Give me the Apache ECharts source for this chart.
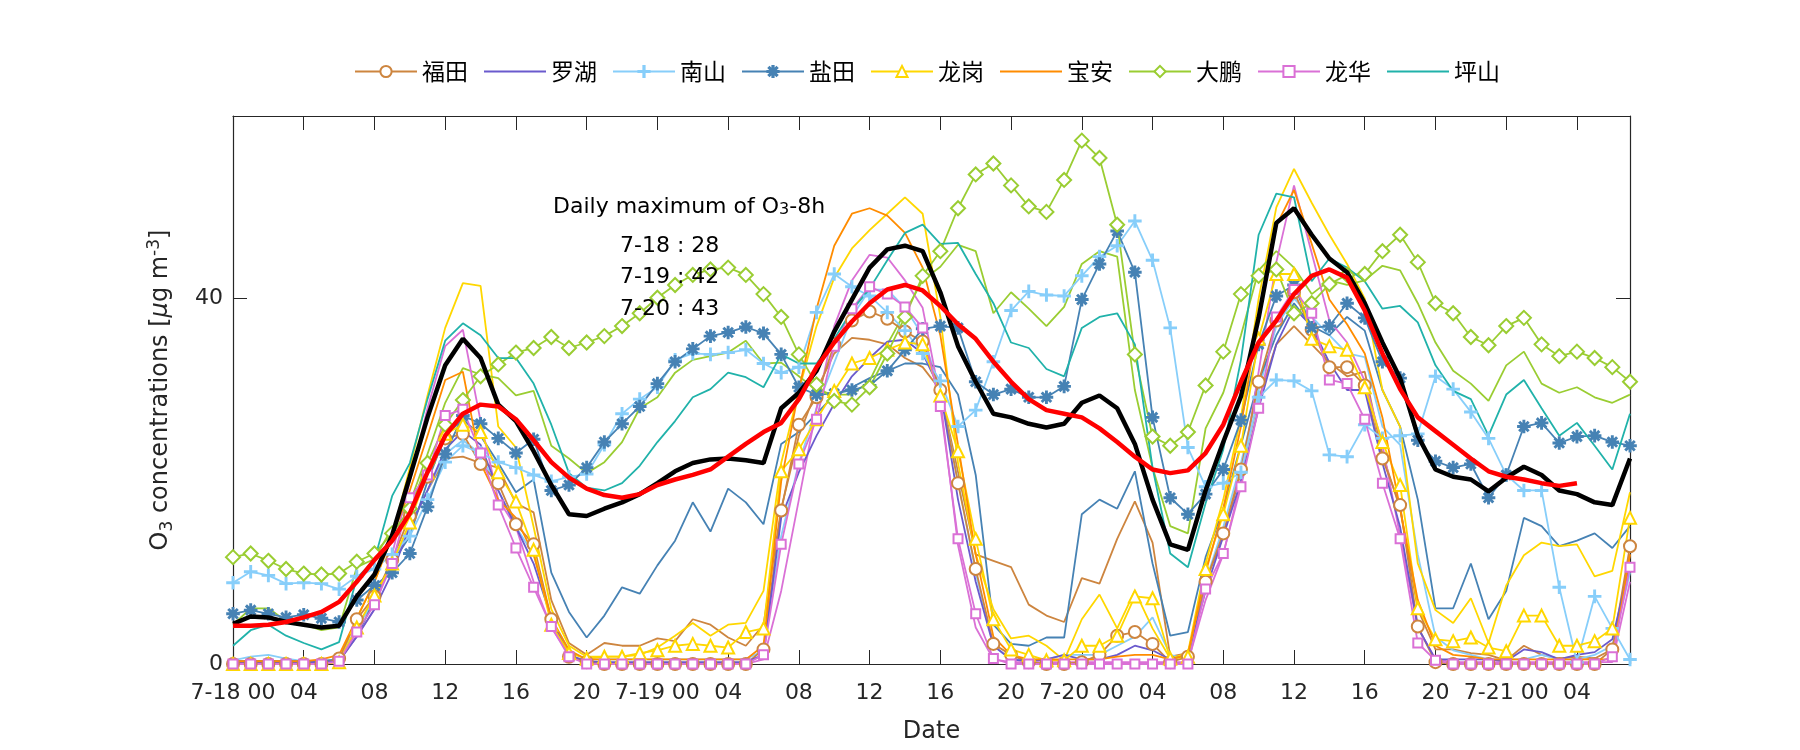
<!DOCTYPE html>
<html><head><meta charset="utf-8">
<script src="https://cdn.jsdelivr.net/npm/echarts@6/dist/echarts.min.js"></script>
<style>html,body{margin:0;padding:0;background:#fff}#c{width:1800px;height:750px}</style>
</head><body><div id="c"></div>
<script>
// hours since 7-18 00:00
const hours = Array.from({length: 80}, (_, i) => i);
const dayLabels = ['7-18', '7-19', '7-20', '7-21'];
const yTickLabels = [0, 40];
const dailyMax = [['7-18', 28], ['7-19', 42], ['7-20', 43]];

const futian = [0,0,0,0,0,0,0.6,4.9,7.4,11.4, 16.2,20.5,24.7,25.2,21.9,19.8,15.3,13.1,4.9,0.8, 0.2,0,0,0,0,0,0,0,0,0, 1.6,16.8,26.2,29.2,35.0,37.6,38.6,37.8,36.4,35.3, 30.0,19.8,10.4,2.2,1.0,0.2,0,0,0.2,1.0, 3.1,3.5,2.2,0.2,0.8,9.0,14.3,21.3,30.9,37.6, 40.7,36.6,32.5,32.5,30.5,22.5,17.4,4.1,0.2,0, 0,0,0,0,0,0,0,0,1.6,12.9];
const futianB = [0.3,0.3,0.3,0.3,0.3,0.3,0.5,4,7,11, 15,19,22.5,22.7,22.0,21.5,17.6,16.6,7.0,2.3, 1.0,2.3,2.0,2.0,2.8,2.5,4.9,4.3,2.9,2.0, 4.3,17,25,30,34,35.7,35.5,35,33.5,32.5, 30,21,12,11.3,10.6,6.5,5.3,4.6,9.4,8.8, 13.7,17.8,13.3,0.8,1.2,9,14,21,29,35, 37,35,33,31.5,32,23,17,6,1.6,1.6, 1.2,1.0,0.4,2.0,1.0,0.6,0.8,0.6,1.6,12];
const luohu = [0.2,0.2,0.2,0.2,0.2,0.2,0.3,3,6,10, 15,19,23.5,25.5,24,19,15,11,5,1, 0.3,0.2,0.2,0.2,0.2,0.2,0.2,0.2,0.2,0.2, 1,16,21,25,28.5,31.5,33.5,35.3,35.5,34, 30,18,9,2,0.5,0.3,0.5,1,0.5,0.5, 1,2,1.5,0.5,1,8,14,20,28,35, 39,37,33,30,30,22,15,4,0.5,0.5, 0.5,0.5,0.3,1.6,1.3,0.5,1.0,1.3,2.7,11];
const nanshan = [8.9,10.1,9.7,8.8,8.9,8.8,8.2,9.6,10.4,12, 14,18,22.1,23.9,23.1,22.1,21.5,20.7,20.0,20.5, 20.8,24.0,27.4,29.0,30.3,33.3,34.0,33.9,34.1,34.4, 32.9,31.9,32.5,38.5,42.7,41.3,40.3,38.5,36.5,34.0, 31.0,26.0,27.8,33.1,38.7,40.8,40.4,40.3,42.5,44.6, 45.8,48.5,44.2,36.8,23.7,19.4,19.8,21,29.2,31.1, 31.0,29.9,22.9,22.7,26.2,24.7,25.0,25.2,31.5,30.1, 27.6,24.7,20.7,19.0,19.0,8.4,0.2,7.4,3.9,0.5];
const nanshanB = [0.4,0.8,1.0,0.6,0.3,0.3,0.5,4,7,11, 15,19,23,24.5,23,19,15,12,5,1.5, 0.5,0.5,0.5,0.5,0.5,0.5,0.5,0.5,0.5,0.5, 1.5,14,22,28,33,38,41,41,39,36, 30,20,10,2,0.5,0.5,0.5,1,1,1, 2,3,5.1,1,0.5,9,15,22,30,37, 40,38,36,34,33.6,26,24,12,3,1.5, 1,0.5,0.5,0.5,1,0.5,0.5,1,2,10];
const yantian = [5.5,5.9,5.5,5.1,5.4,5.0,4.6,7.0,8.6,10.0, 12.1,17.2,23,27.2,26.3,24.7,23.1,24.6,19.0,19.6, 21.5,24.3,26.3,28.2,30.7,33.1,34.5,35.9,36.3,36.9, 36.2,33.9,30.3,29.5,29.6,30.0,30.5,32.1,34.4,36.7, 37.0,36.8,30.9,29.5,30.1,29.2,29.2,30.4,39.9,43.8, 47.4,42.9,27.0,18.2,16.4,18.6,21.3,26.7,35.0,40.3, 41.5,36.8,37.0,39.5,37.9,33.1,31.3,24.5,22.2,21.5, 21.9,18.2,20.7,26.0,26.4,24.2,24.9,25.0,24.3,23.9];
const yantianB = [0.3,0.3,0.3,0.3,0.3,0.3,0.5,3,7,11, 14,20,25,26.8,25,22,18.8,20.2,10.0,5.7, 2.9,5.3,8.4,7.7,10.8,13.5,17.7,14.5,19.2,17.7, 15.3,24.1,25.4,27.4,29.4,30.3,31.3,32.1,32.9,32.9, 32.5,29.5,20.7,4.3,2.2,2.0,2.9,2.9,16.4,18.0, 17.0,21.1,11.0,3.1,3.5,11.7,17,24,31,36, 39.5,37,36.0,38,36.5,30,26,18,6.1,6.1, 11.0,4.9,8.0,16.0,15.1,12.9,13.5,14.3,12.7,15.1];
const longgang = [0,0,0,0,0,0,0.2,4,7.5,11, 15.5,21,25.2,26.2,25.4,21,17.8,12.5,4.3,1.2, 0.6,0.8,0.8,1.2,1.5,2.0,2.2,2.0,1.8,3.5, 3.9,21.1,23.5,26.8,29.9,32.9,33.5,34.4,35.2,35.0, 29.4,23.3,13.7,4.9,1.6,1.0,0.4,0.4,2.0,2.0, 3.1,7.4,7.2,0.6,0.8,10.4,16.4,23.9,35.6,42.7, 42.7,35.6,34.8,34.4,30.3,24.3,19.6,6.1,2.7,2.5, 2.9,1.8,1.4,5.3,5.3,2.0,2.0,2.5,3.9,16.0];
const longgangB = [0,0,0,0,0,0,0.3,5,9,14, 21.5,29.4,36.8,41.7,41.4,26.0,23.7,15,6,2, 0.8,0.8,0.8,1.0,1.8,3.1,4.5,3.1,4.3,4.5, 8,22,30,37,42.3,45.5,47.5,49.3,51.1,49.3, 38,22,12,6,2.8,3.1,2.0,0.4,4.9,7.6, 3.9,8.0,3.9,0.6,1.2,11,18,27,40,50, 54.2,50.5,47.0,43.8,40,30,26,11.0,5.9,4.5, 7.2,2.3,8.6,11.9,13.3,12.9,13.1,9.6,10.2,18.8];
const baoan = [0.3,0.3,0.3,0.3,0.3,0.5,1,5,9,14, 19,25,31.1,32.0,22,18,16,12,5,1.5, 0.5,0.5,0.5,0.5,0.5,0.5,0.5,0.5,0.5,0.5, 2,20,30,38.9,45.8,49.3,49.9,49.1,47.2,43.4, 36,24,12,3,1,0.5,0.5,0.5,0.5,0.5, 0.8,1.0,1.0,0.5,1.0,10,17,26,38,48, 51.9,46,39.9,37.2,34,27,17,7,2,1, 0.8,0.5,0.5,0.5,0.5,0.5,0.5,0.5,0.5,12];
const dapeng = [11.7,12.1,11.3,10.4,9.9,9.8,9.9,11.2,12.1,14.3, 17,22,26.2,28.9,31.5,32.8,34.1,34.6,35.8,34.6, 35.2,35.9,37.0,38.4,40.1,41.5,42.6,43.2,43.4,42.6, 40.5,38.0,33.9,30.6,28.8,28.4,30.3,34.0,38.0,42.5, 45.2,49.9,53.6,54.8,52.4,50.1,49.5,53.0,57.3,55.4, 48.1,33.9,24.9,23.9,25.4,30.5,34.2,40.5,42.5,43.2, 38.4,39.5,41.6,42.6,42.7,45.2,47.0,44.0,39.5,38.4, 35.8,34.9,37.0,37.9,35.0,33.7,34.2,33.5,32.5,30.9];
const dapengB = [4.3,6.1,6.1,4.7,4.3,3.7,4.0,10.6,11.5,14.9, 17.6,23,28.6,32.4,31.7,31.3,29.4,29.9,23.9,22.5, 20.9,22.1,24.3,28.0,29.2,31.9,33.3,33.7,34.1,35.4, 32.9,33.0,31.5,30.0,29.5,29.5,31.0,35.0,38.5,42.0, 43.5,45.9,45.2,38.4,40.7,38.9,37.0,39.1,43.8,45.2, 44.6,30,21.5,15.1,14.3,25.8,29.7,36,43.1,45.2, 43.4,40.5,42.0,41.5,42.0,43.6,43.1,39.5,35.2,32.1, 30.7,28.8,32.7,34.2,30.7,29.7,30.3,29.2,28.6,29.5];
const longhua = [0,0,0,0,0,0,0.3,3.5,6.5,11, 18.2,20.7,27.2,27.9,23.1,17.4,12.7,8.4,4.1,0.8, 0,0,0,0,0,0,0,0,0,0, 1.0,13.1,21.9,26.8,34.8,38.9,41.3,40.5,39.1,36.8, 28.2,13.7,5.5,0.6,0,0,0,0,0,0, 0,0,0,0,0,8.2,12.1,19.4,28,38, 41,38.4,31.1,30.7,26.8,19.8,13.7,2.3,0.4,0, 0,0,0,0,0,0,0,0,0.8,10.6];
const longhuaB = [0,0,0,0,0,0,0.3,3,6,12, 20,28,34.8,36.6,26.6,18,15,9,4,1, 0,0,0,0,0,0,0,0,0,0, 0.5,8,18,28,37,42,44.8,44.5,42,39, 29,13,4,0.5,0.2,0.2,0.2,0.2,0.2,0.2, 0.2,0.2,0.2,0.2,0.2,7,12,20,32,44, 52.4,45,37.6,35.2,31,24,14,4,0.5,0.2, 0.2,0.2,0.2,0.2,0.2,0.2,0.2,0.2,0.2,9];
const pingshan = [2.0,3.7,4.3,3.1,2.3,1.6,2.4,9.4,11.4,18.4, 22,29,35.4,37.3,36.0,33.5,33.5,30.7,26.2,20.9, 19.3,19.0,19.8,21.7,24.3,26.6,29.2,30.1,31.9,31.4, 30.3,33.9,32.9,32.9,35.6,38.7,41.1,44.2,47.2,48.1, 46.0,46.1,42.7,39.5,35.2,34.6,32.3,31.5,36.8,38.0, 38.4,35.0,21.5,12.1,10.6,17.6,23.5,33.3,47.0,51.5, 51.1,41.9,44.4,43.4,41.9,38.9,39.2,37.4,32.7,29.9, 29.0,25.0,29.5,31.1,28.0,25.0,26.4,23.9,21.3,27.4];
const meanAll = [4.4,5.2,5.1,4.6,4.3,4.0,4.2,7.4,9.8,14.1, 20.5,27,32.7,35.6,33.5,28.4,26.6,23.3,19.6,16.4, 16.2,17.0,17.7,18.6,19.8,21.1,22.0,22.4,22.5,22.3, 22.0,28.0,29.7,32.1,36.4,39.9,43.4,45.4,45.8,45.2, 40.7,34.8,30.9,27.4,27.0,26.3,25.9,26.3,28.6,29.4, 28.0,24.1,18.0,13.1,12.5,19.0,24.3,29.3,37.9,48.3, 49.9,47.0,44.4,42.9,39.5,35.2,31.3,25.0,21.3,20.5, 20.2,18.9,20.4,21.6,20.7,19.0,18.6,17.7,17.4,22.5];
const o3_8h = [4.2,4.2,4.3,4.6,5.1,5.7,6.8,9.0,11.4,13.5, 16.5,21.0,25.0,27.4,28.4,28.2,26.8,24.5,22.1,20.4, 19.2,18.5,18.2,18.6,19.6,20.2,20.7,21.3,22.7,24.1, 25.4,26.4,29.0,32.5,35.2,37.5,39.5,41.0,41.5,40.9, 39.2,37.2,35.6,33.1,30.9,29.0,27.8,27.4,27.0,25.8, 24.3,22.7,21.3,20.9,21.2,23.1,26.2,30.9,35.2,37.6, 40.5,42.5,43.2,42.3,38.7,34.0,30.1,27.0,25.5,24.0, 22.5,21.1,20.5,20.2,19.8,19.5,19.8,null,null,null];

const FONT = "'DejaVu Sans', sans-serif";
const CJK = "'Noto Sans CJK SC', sans-serif";
const PLUS = 'path://M0,4.45L10,4.45L10,5.55L0,5.55Z M4.45,0L5.55,0L5.55,10L4.45,10Z';
const STAR = 'path://M0,4.45L10,4.45L10,5.55L0,5.55Z M4.45,0L5.55,0L5.55,10L4.45,10Z M1.9,1.1L8.9,8.1L8.1,8.9L1.1,1.9Z M8.1,1.1L8.9,1.9L1.9,8.9L1.1,8.1Z';

function pairs(arr) { return hours.map((h, i) => [h, arr[i]]); }

const stations = [
  {name: '福田', data: futian, color: '#CD853F', symbol: 'emptyCircle', size: 12},
  {name: '罗湖', data: luohu, color: '#6A5ACD', symbol: 'none'},
  {name: '南山', data: nanshan, color: '#87CEFA', symbol: PLUS, size: 12},
  {name: '盐田', data: yantian, color: '#4682B4', symbol: STAR, size: 12},
  {name: '龙岗', data: longgang, color: '#FFD700', symbol: 'emptyTriangle', size: 12},
  {name: '宝安', data: baoan, color: '#FF8C00', symbol: 'none'},
  {name: '大鹏', data: dapeng, color: '#9ACD32', symbol: 'emptyDiamond', size: 14},
  {name: '龙华', data: longhua, color: '#DA70D6', symbol: 'emptyRect', size: 9},
  {name: '坪山', data: pingshan, color: '#20B2AA', symbol: 'none'}
];
const plainExtra = [
  {name: '福田b', data: futianB, color: '#CD853F'},
  {name: '南山b', data: nanshanB, color: '#87CEFA'},
  {name: '盐田b', data: yantianB, color: '#4682B4'},
  {name: '龙岗b', data: longgangB, color: '#FFD700'},
  {name: '大鹏b', data: dapengB, color: '#9ACD32'},
  {name: '龙华b', data: longhuaB, color: '#DA70D6'}
];

const series = [];
plainExtra.forEach(s => {
  series.push({
    name: s.name, type: 'line', data: pairs(s.data), symbol: 'none', showSymbol: false,
    lineStyle: {color: s.color, width: 1.8}, itemStyle: {color: s.color},
    emphasis: {disabled: true}, animation: false, z: 2
  });
});
stations.forEach(s => {
  series.push({
    name: s.name, type: 'line', data: pairs(s.data),
    symbol: s.symbol, symbolSize: s.size || 0, showSymbol: s.symbol !== 'none',
    lineStyle: {color: s.color, width: 1.8},
    itemStyle: {color: s.color, borderColor: s.color, borderWidth: 1.6},
    emphasis: {disabled: true}, animation: false, z: 3
  });
});
series.push({name: 'mean', type: 'line', data: pairs(meanAll), symbol: 'none', showSymbol: false,
  lineStyle: {color: '#000', width: 4.5}, itemStyle: {color: '#000'}, emphasis: {disabled: true}, animation: false, z: 5});
series.push({name: 'o3_8h', type: 'line', data: pairs(o3_8h), symbol: 'none', showSymbol: false,
  lineStyle: {color: '#FF0000', width: 4.5}, itemStyle: {color: '#FF0000'}, emphasis: {disabled: true}, animation: false, z: 5});

function xLabel(v) {
  if (v % 4 !== 0) return '';
  const hh = v % 24;
  const s = (hh < 10 ? '0' : '') + hh;
  return hh === 0 ? dayLabels[v / 24] + ' ' + s : s;
}

const axisColor = '#262626';
const chart = echarts.init(document.getElementById('c'), null, {renderer: 'canvas'});
const legendData = stations.map(s => s.symbol === 'none'
  ? {name: s.name, itemStyle: {opacity: 0, color: 'rgba(0,0,0,0)', borderWidth: 0}}
  : {name: s.name});
const option = {
  backgroundColor: '#fff',
  animation: false,
  grid: {left: 233, right: 170, top: 116, bottom: 86},
  legend: {
    data: legendData, left: 349, top: 55,
    itemWidth: 62, itemHeight: 14, itemGap: 15,
    textStyle: {fontFamily: CJK, fontSize: 23, color: '#000'}
  },
  xAxis: [
    {type: 'value', min: 0, max: 79, interval: 4, position: 'bottom',
     name: 'Date', nameLocation: 'middle', nameGap: 56,
     nameTextStyle: {fontFamily: FONT, fontSize: 24, color: axisColor},
     axisLine: {onZero: false, lineStyle: {color: axisColor, width: 1.2}},
     axisTick: {inside: true, length: 14, lineStyle: {color: axisColor}},
     axisLabel: {formatter: xLabel, fontFamily: FONT, fontSize: 22, color: axisColor, margin: 18, showMaxLabel: false},
     splitLine: {show: false}},
    {type: 'value', min: 0, max: 79, interval: 4, position: 'top',
     axisLine: {onZero: false, lineStyle: {color: axisColor, width: 1.2}},
     axisTick: {inside: true, length: 14, lineStyle: {color: axisColor}},
     axisLabel: {show: false}, splitLine: {show: false}}
  ],
  yAxis: [
    {type: 'value', min: 0, max: 60, interval: 40, position: 'left',
     name: '{t|O}{sub|3}{t| concentrations [}{mu|μ}{t|g m}{sup|-3}{t|]}',
     nameLocation: 'middle', nameGap: 57, nameRotate: 90,
     nameTextStyle: {color: axisColor, fontFamily: FONT, fontSize: 24,
       rich: {
         t: {fontFamily: FONT, fontSize: 24, color: axisColor, lineHeight: 30},
         mu: {fontFamily: FONT, fontSize: 24, fontStyle: 'italic', color: axisColor, lineHeight: 30},
         sub: {fontFamily: FONT, fontSize: 17, color: axisColor, lineHeight: 17, verticalAlign: 'bottom'},
         sup: {fontFamily: FONT, fontSize: 17, color: axisColor, lineHeight: 17, verticalAlign: 'top'}
       }},
     axisLine: {show: true, onZero: false, lineStyle: {color: axisColor, width: 1.2}},
     axisTick: {show: true, inside: true, length: 14, lineStyle: {color: axisColor}},
     axisLabel: {formatter: v => yTickLabels.indexOf(v) >= 0 ? String(v) : '', fontFamily: FONT, fontSize: 22, color: axisColor, margin: 10},
     splitLine: {show: false}},
    {type: 'value', min: 0, max: 60, interval: 40, position: 'right',
     axisLine: {show: true, onZero: false, lineStyle: {color: axisColor, width: 1.2}},
     axisTick: {show: true, inside: true, length: 14, lineStyle: {color: axisColor}},
     axisLabel: {show: false}, splitLine: {show: false}}
  ],
  graphic: [
    {type: 'text', x: 553, y: 207, z: 10, style: {
      text: 'Daily maximum of O{sub|3}-8h', fill: '#000', fontFamily: FONT, fontSize: 22, verticalAlign: 'middle',
      rich: {
        sub: {fontFamily: FONT, fontSize: 16, fill: '#000', lineHeight: 16, verticalAlign: 'bottom'}
      }}}
  ].concat(dailyMax.map((d, i) => ({
    type: 'text', x: 620, y: 246 + i * 31.5, z: 10,
    style: {text: d[0] + ' : ' + d[1], fill: '#000', fontFamily: FONT, fontSize: 22, verticalAlign: 'middle'}
  }))),
  series: series
};
chart.setOption(option);
</script>
</body></html>
